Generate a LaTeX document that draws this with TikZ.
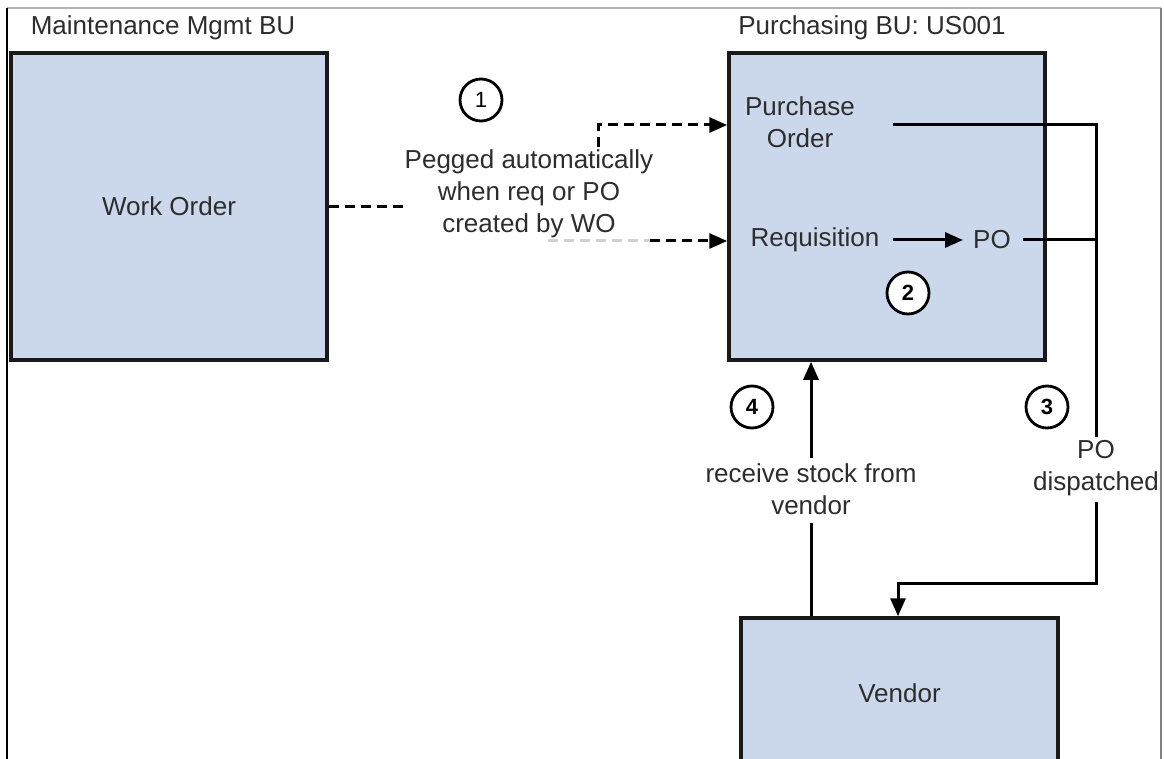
\documentclass[tikz,border=0pt]{standalone}
\usepackage{fontspec}
\setmainfont{Liberation Sans}
\usetikzlibrary{arrows.meta}
\definecolor{boxfill}{RGB}{203,216,235}
\definecolor{txt}{RGB}{45,45,45}
\begin{document}
\begin{tikzpicture}[x=1pt,y=-1pt,
  every node/.style={font=\fontsize{26}{32}\selectfont, text=txt},
  bluebox/.style={draw=black!90, line width=3.5pt, fill=boxfill, inner sep=0pt},
  conn/.style={line width=3pt, draw=black},
  tip/.style={-{Triangle[length=18pt,width=15pt]}},
  dashline/.style={line width=3pt, dash pattern=on 10pt off 6pt},
  num/.style={circle, draw=black, line width=2.8pt, minimum size=42pt, inner sep=0pt, fill=white, text=black, font=\fontsize{22}{22}\selectfont},
  numb/.style={num, font=\fontsize{22}{22}\selectfont\bfseries},
  lbl/.style={align=center, inner sep=0pt}
]
\useasboundingbox (0,0) rectangle (1164,759);
\clip (0,0) rectangle (1164,759);
\fill[white] (0,0) rectangle (1164,759);
% frame
\draw[gray!60, line width=1.5pt] (7,8) -- (1161,8);
\draw[black, line width=1.5pt] (7,8) -- (7,759);
\draw[gray, line width=1.5pt] (1161,8) -- (1161,759);

% titles
\node[lbl] (mmbu) at (163,28) {Maintenance Mgmt BU};
\node[lbl] (pbu) at (872,28) {Purchasing BU: US001};

% boxes
\node[bluebox, minimum width=316pt, minimum height=307pt] (wo) at (169,206.5) {Work Order};
\node[bluebox, minimum width=316pt, minimum height=307pt] (pur) at (887,206.5) {};
\node[bluebox, minimum width=317pt, minimum height=150pt] (vendor) at (899.5,693) {Vendor};

% texts inside purchasing box
\node[lbl] (pord) at (800,122) {Purchase\\Order};
\node[lbl] (req) at (815,240) {Requisition};
\node[lbl] (po) at (992,240) {PO};

% other labels
\node[lbl] (peg) at (529,193.5) {Pegged automatically\\when req or PO\\created by WO};
\node[lbl] (rcvtxt) at (811,489) {receive stock from\\vendor};
\node[lbl] (pod) at (1096,468) {PO\\dispatched};

% coordinates
\coordinate (postart) at (893,125);
\coordinate (rtop) at (1096,125);
\coordinate (g1) at (1096,437);
\coordinate (g2) at (1096,502);
\coordinate (bend) at (1096,583);
\coordinate (rcv1) at (811,523);
\coordinate (rcv2) at (811,458);
\coordinate (d1) at (598,147);
\coordinate (d2) at (548,241);
\coordinate (d3) at (650,241);

% connectors
\draw[conn, tip, shorten <=13pt, shorten >=10pt] (req.east) -- (po.west);
\draw[conn] ([xshift=12pt]po.east) -- (po.east -| rtop);
\draw[conn] (postart) -- (rtop) -- (g1);
\draw[conn, tip] (g2) -- (bend) -| (vendor.north -| 898,0);
\draw[conn] (vendor.north -| rcv1) -- (rcv1);
\draw[conn, tip] (rcv2) -- (pur.south -| rcv2);

\draw[dashline] (wo.east) -- (wo.east -| peg.west);
\draw[dashline, tip] (d1) |- (pur.west |- postart);
\draw[dashline, draw=gray!35] (d2) -- (d3);
\draw[dashline, tip] (d3) -- (pur.west |- d3);

% step numbers
\node[num] (n1) at (481,100) {1};
\node[numb] (n2) at (908,293) {2};
\node[numb] (n3) at (1047,407) {3};
\node[numb] (n4) at (752,407) {4};
\end{tikzpicture}
\end{document}
